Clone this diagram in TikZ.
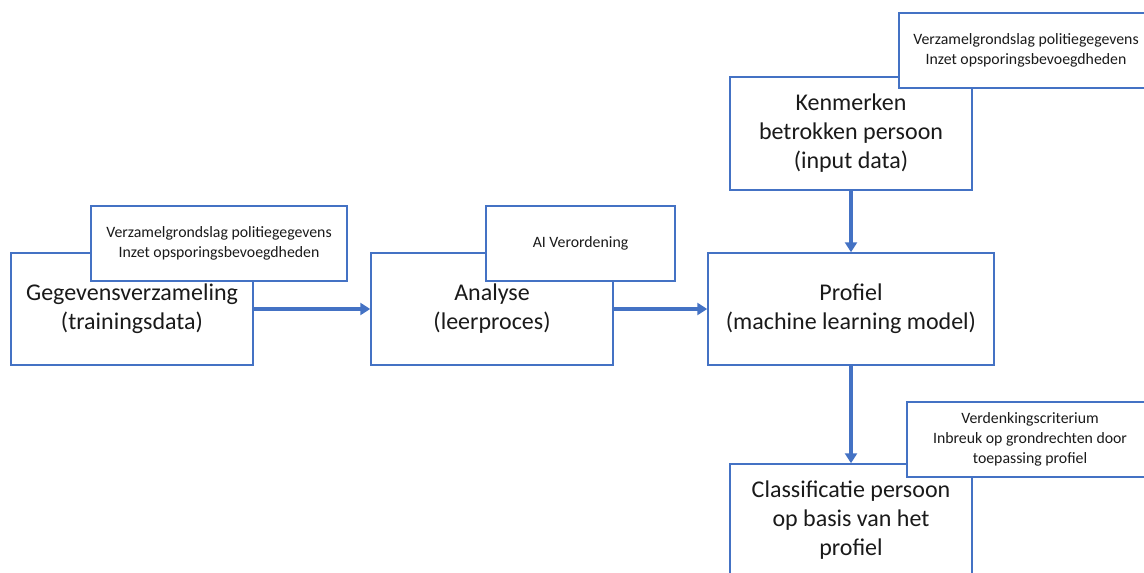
\documentclass[tikz,border=0pt]{standalone}
\usepackage{fontspec}
\setmainfont{Carlito}
\usetikzlibrary{arrows.meta,positioning}
\definecolor{boxColor}{HTML}{4472C4}
\definecolor{txtColor}{HTML}{1A1A1A}
\tikzset{
	stage/.style={draw=boxColor, line width=0.75pt, fill=white, inner sep=0pt,
		minimum height=56pt, text=txtColor, font=\fontsize{12}{14.5}\selectfont},
	note/.style={draw=boxColor, line width=0.75pt, fill=white, inner sep=0pt,
		minimum height=37.5pt, text=txtColor, font=\fontsize{7.9}{10}\selectfont},
	flow/.style={draw=boxColor, line width=1.6pt, -{Triangle[length=5pt,width=6pt]}}
}
\begin{document}
\begin{tikzpicture}[x=0.5pt, y=-0.5pt]
	\useasboundingbox (0,0) rectangle (1144,572);
	\clip (0,0) rectangle (1144,572);
	
	% stages
	\node[stage, minimum width=121pt] (tg) at (132, 309) {\begin{tabular}{c}
		Gegevensverzameling \\ (trainingsdata)
	\end{tabular}};
	\node[stage, minimum width=121pt] (ta) at (492, 309) {\begin{tabular}{c}
		Analyse \\ (leerproces)
	\end{tabular}};
	\node[stage, minimum width=143pt] (tp) at (851, 309) {\begin{tabular}{c}
		Profiel \\ (machine learning model)
	\end{tabular}};
	\node[stage, minimum width=121pt, minimum height=56.5pt] (tk) at (851, 133.5) {\begin{tabular}{c}
		Kenmerken \\ betrokken persoon \\ (input data)
	\end{tabular}};
	\node[stage, minimum width=121pt, minimum height=56.5pt] (tc) at (851, 520.5) {\begin{tabular}{c}
		Classificatie persoon \\ op basis van het \\ profiel
	\end{tabular}};
	
	% notes on top
	\node[note, minimum width=128pt] (ng) at (219, 243.5) {\begin{tabular}{c}
		Verzamelgrondslag politiegegevens \\ Inzet opsporingsbevoegdheden
	\end{tabular}};
	\node[note, minimum width=94.5pt] (na) at (580.5, 243.5) {AI Verordening};
	\node[note, minimum width=127pt] (nk) at (1026, 50.5) {\begin{tabular}{c}
		Verzamelgrondslag politiegegevens \\ Inzet opsporingsbevoegdheden
	\end{tabular}};
	\node[note, minimum width=123pt] (nc) at (1030, 439.5) {\begin{tabular}{c}
		Verdenkingscriterium \\ Inbreuk op grondrechten door \\ toepassing profiel
	\end{tabular}};
	
	\path (tg.east) edge[flow] (ta.west);
	\path (ta.east) edge[flow] (tp.west);
	\path (tk.south) edge[flow] (tp.north);
	\path (tp.south) edge[flow] (tc.north);
\end{tikzpicture}
\end{document}
